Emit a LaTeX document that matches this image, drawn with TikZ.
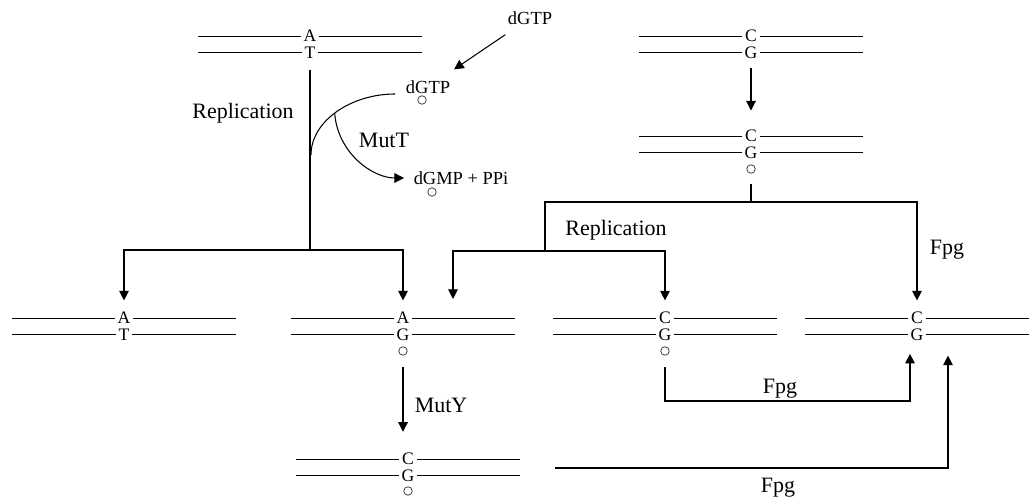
\documentclass[tikz,border=0pt]{standalone}
\usepackage{fontspec}
\setmainfont{Liberation Serif}
\usetikzlibrary{positioning,arrows.meta}

\begin{document}
\begin{tikzpicture}[x=0.02cm,y=-0.02cm]
\tikzstyle{base}=[inner sep=1.5pt,text height=0.66em,text depth=0pt,font=\fontsize{10}{12}\selectfont]
\tikzstyle{strand}=[line width=0.55pt]
\tikzstyle{oxo}=[circle,draw=black!75,line width=0.45pt,minimum size=0.17cm,inner sep=0pt]
\tikzstyle{lbl}=[font=\fontsize{12.5}{15}\selectfont]
\tikzstyle{small}=[font=\fontsize{10.5}{12}\selectfont]
\tikzstyle{line}=[line width=0.6pt]
\tikzstyle{arr}=[line width=0.6pt,-{Triangle[length=5.5pt,width=5.5pt]}]
\useasboundingbox (0,0) rectangle (1029,499);

% duplexes: name/x/y/top/bottom
\foreach \n/\x/\y/\p/\q in {at0/310/36/A/T, cg0/751/36/C/G, cgo/751/136/C/G,
  at1/124/318/A/T, ag1/403/318/A/G, cg1/665/318/C/G, cg2/917/318/C/G, cg3/408/459/C/G}{
  \node[base] (\n-t) at (\x,\y) {\p};
  \node[base] (\n-b) at (\x,\y+16.5) {\q};
  \draw[strand] (\n-t.west) -- (\x-112,\y) (\n-t.east) -- (\x+112,\y);
  \draw[strand] (\n-b.west) -- (\x-112,\y+16.5) (\n-b.east) -- (\x+112,\y+16.5);
}
\node[oxo] (cgo-o) at (751,169) {};
\node[oxo] (ag1-o) at (403,351) {};
\node[oxo] (cg1-o) at (665,351) {};
\node[oxo] (cg3-o) at (408,491) {};

% nucleotides
\node[small] (dgtp1) at (530,18) {dGTP};
\node[small] (dgtp2) at (428,87) {dGTP};
\node[oxo] (dgtp2-o) at (422,100) {};
\node[small] (dgmp) at (461,178) {dGMP + PPi};
\node[oxo] (dgmp-o) at (432,192) {};

% labels
\node[lbl] (rep-l) at (243,113) {Replication};
\node[lbl] (mutt) at (384,140) {MutT};
\node[lbl] (rep-r) at (616,230) {Replication};
\node[lbl] (fpg-a) at (947,250) {Fpg};
\node[lbl] (fpg-b) at (780,389) {Fpg};
\node[lbl] (fpg-c) at (778,488) {Fpg};
\node[lbl] (muty) at (441,405) {MutY};

% left branch
\coordinate (rep1) at (310,250);
\coordinate (br1) at (311,155);
\coordinate (dg-in) at (395,94);
\draw[line,shorten <=5pt] (at0-b) -- (rep1);
\draw[arr,shorten >=5pt] (rep1) -| (at1-t.north);
\draw[arr,shorten >=5pt] (rep1) -| (ag1-t.north);
\draw[line] (br1) .. controls (311,121) and (351,94) .. (dg-in) coordinate[pos=0.48] (br2);
\draw[arr,shorten >=2pt] (br2) .. controls +(3,40) and +(-35,0) .. (dgmp.west);
\draw[arr,shorten <=4pt,shorten >=5pt] (dgtp1) -- (dgtp2);
\draw[arr,shorten <=6.5pt,shorten >=10.5pt] (ag1-o) -- (ag1-o |- cg3-t.north);

% right branch
\coordinate (rep2) at (751,202);
\coordinate (rep3) at (545,251);
\coordinate (ag1-r) at (453,299);
\coordinate (fpg1) at (910,401);
\coordinate (fpg2) at (555,468);
\coordinate (fpg3) at (948,468);
\draw[arr,shorten <=4pt,shorten >=9.5pt] (cg0-b) -- (cgo-t);
\draw[line,shorten <=6pt] (cgo-o) -- (rep2);
\draw[line] (rep2) -| (rep3);
\draw[arr] (rep3) -| (ag1-r);
\draw[arr,shorten >=5pt] (rep3) -| (cg1-t.north);
\draw[arr,shorten >=5pt] (rep2) -| (cg2-t.north);
\draw[arr,shorten <=6.5pt,shorten >=6pt] (cg1-o) |- (fpg1) -- (fpg1 |- cg2-b.south);
\draw[arr,shorten >=7pt] (fpg2) -- (fpg3) -- (fpg3 |- cg2-b.south);
\end{tikzpicture}
\end{document}
